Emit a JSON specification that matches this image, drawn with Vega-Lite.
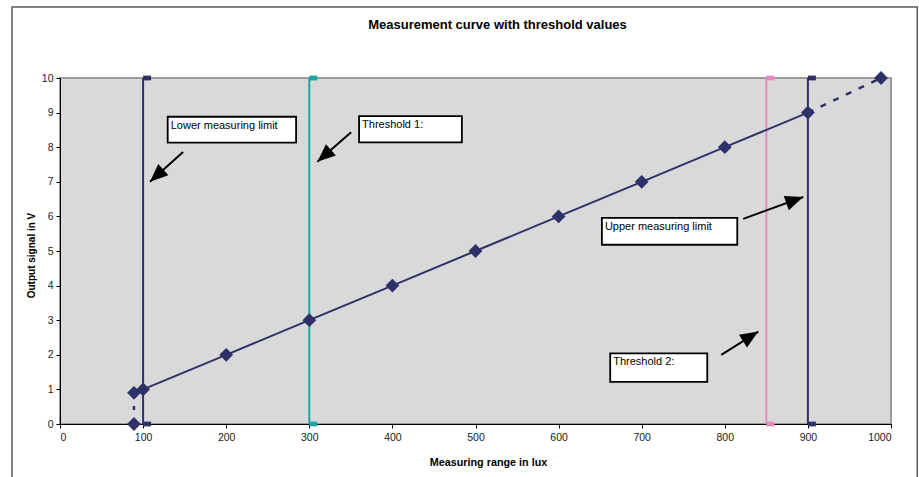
{
  "$schema": "https://vega.github.io/schema/vega-lite/v6.json",
  "width": 831,
  "height": 346,
  "autosize": {"type": "none"},
  "padding": {"left": 60, "top": 78, "right": 28, "bottom": 53},
  "background": "white",
  "title": {
    "text": "Measurement curve with threshold values",
    "anchor": "middle",
    "frame": "group",
    "dx": 22,
    "offset": -36,
    "baseline": "alphabetic",
    "font": "Liberation Sans",
    "fontSize": 13,
    "fontWeight": "bold",
    "color": "#000000"
  },
  "config": {
    "font": "Liberation Sans",
    "view": {"fill": "#d9d9d9", "stroke": "#9c9c9c", "strokeWidth": 2}
  },
  "datasets": {
    "readings": [
      {"x": 89, "y": 0},
      {"x": 89, "y": 0.9},
      {"x": 100, "y": 1},
      {"x": 200, "y": 2},
      {"x": 300, "y": 3},
      {"x": 400, "y": 4},
      {"x": 500, "y": 5},
      {"x": 600, "y": 6},
      {"x": 700, "y": 7},
      {"x": 800, "y": 8},
      {"x": 900, "y": 9},
      {"x": 988, "y": 10}
    ],
    "limits": [
      {"name": "Lower measuring limit", "x": 100, "y": 0},
      {"name": "Lower measuring limit", "x": 100, "y": 10},
      {"name": "Threshold 1", "x": 300, "y": 0},
      {"name": "Threshold 1", "x": 300, "y": 10},
      {"name": "Threshold 2", "x": 850, "y": 0},
      {"name": "Threshold 2", "x": 850, "y": 10},
      {"name": "Upper measuring limit", "x": 900, "y": 0},
      {"name": "Upper measuring limit", "x": 900, "y": 10}
    ],
    "notes": [
      {"label": "Lower measuring limit", "x": 129.6, "y": 8.88, "x2": 284.1, "y2": 8.13},
      {"label": "Threshold 1:", "x": 359.9, "y": 8.9, "x2": 483.6, "y2": 8.14},
      {"label": "Upper measuring limit", "x": 652.1, "y": 5.96, "x2": 815.0, "y2": 5.18},
      {"label": "Threshold 2:", "x": 662.1, "y": 2.04, "x2": 778.9, "y2": 1.22}
    ],
    "arrows": [
      {"name": "lower", "x": 108.3, "y": 7.0, "x2": 148.1, "y2": 7.86},
      {"name": "t1", "x": 309.7, "y": 7.58, "x2": 350.3, "y2": 8.43},
      {"name": "upper", "x": 894.4, "y": 6.56, "x2": 822.2, "y2": 5.93},
      {"name": "t2", "x": 840.3, "y": 2.67, "x2": 795.7, "y2": 2.0}
    ],
    "frame": [
      {"x": -57.8, "y": 12.05, "x2": 1031.6, "y2": -2}
    ]
  },
  "encoding": {
    "x": {
      "field": "x",
      "type": "quantitative",
      "scale": {"domain": [0, 1000], "nice": false, "zero": false},
      "axis": {
        "title": "Measuring range in lux",
        "values": [0, 100, 200, 300, 400, 500, 600, 700, 800, 900, 1000],
        "format": "d",
        "grid": false,
        "domainColor": "#000000",
        "tickColor": "#000000",
        "tickSize": 4,
        "labelPadding": 4,
        "labelFontSize": 10.5,
        "labelColor": "#1a1a1a",
        "titleFontSize": 10.8,
        "titleFontWeight": "bold",
        "titleColor": "#000000",
        "titleX": 428,
        "titleY": 41,
        "titleAlign": "center",
        "titleBaseline": "alphabetic"
      }
    },
    "y": {
      "field": "y",
      "type": "quantitative",
      "scale": {"domain": [0, 10], "nice": false, "zero": false},
      "axis": {
        "title": "Output signal in V",
        "values": [0, 1, 2, 3, 4, 5, 6, 7, 8, 9, 10],
        "grid": false,
        "domainColor": "#000000",
        "tickColor": "#000000",
        "tickSize": 4,
        "labelPadding": 3,
        "labelFontSize": 10.5,
        "labelColor": "#1a1a1a",
        "titleFontSize": 10,
        "titleFontWeight": "bold",
        "titleColor": "#000000",
        "titleAngle": -90,
        "titleX": -26,
        "titleY": 177,
        "titleAlign": "center",
        "titleBaseline": "alphabetic"
      }
    }
  },
  "layer": [
    {
      "data": {"name": "frame"},
      "mark": {"type": "rect", "fill": null, "fillOpacity": 0, "stroke": "#5a5a5a", "strokeWidth": 1.5, "clip": false},
      "encoding": {
        "x2": {"field": "x2"},
        "y2": {"field": "y2"}
      }
    },
    {
      "data": {"name": "limits"},
      "mark": {"type": "line", "strokeWidth": 2},
      "encoding": {
        "detail": {"field": "name"},
        "color": {
          "field": "name",
          "type": "nominal",
          "scale": {
            "domain": ["Lower measuring limit", "Threshold 1", "Threshold 2", "Upper measuring limit"],
            "range": ["#2e3167", "#1aa8a6", "#e28bc2", "#2e3167"]
          },
          "legend": null
        },
        "order": {"field": "y"}
      }
    },
    {
      "data": {"name": "limits"},
      "mark": {"type": "point", "shape": "M-1,-0.6H1V0.6H-1Z", "size": 64, "filled": true, "opacity": 1, "xOffset": 4},
      "encoding": {
        "color": {"field": "name", "type": "nominal", "legend": null}
      }
    },
    {
      "data": {"name": "readings"},
      "transform": [{"filter": "datum.y >= 0.9 && datum.x <= 900"}],
      "mark": {"type": "line", "color": "#2e3167", "strokeWidth": 2},
      "encoding": {"order": {"field": "x"}}
    },
    {
      "data": {"name": "readings"},
      "transform": [{"filter": "datum.x < 95"}],
      "mark": {"type": "line", "color": "#2e3167", "strokeWidth": 2.5, "strokeDash": [4, 10]},
      "encoding": {"order": {"field": "y"}}
    },
    {
      "data": {"name": "readings"},
      "transform": [{"filter": "datum.x >= 900"}],
      "mark": {"type": "line", "color": "#2e3167", "strokeWidth": 2.5, "strokeDash": [6, 8]},
      "encoding": {"order": {"field": "x"}}
    },
    {
      "data": {"name": "readings"},
      "mark": {"type": "point", "shape": "diamond", "size": 190, "filled": true, "color": "#2e3167", "opacity": 1},
      "encoding": {}
    },
    {
      "data": {"name": "notes"},
      "mark": {"type": "rect", "fill": "#ffffff", "stroke": "#000000", "strokeWidth": 1.8},
      "encoding": {
        "x2": {"field": "x2"},
        "y2": {"field": "y2"}
      }
    },
    {
      "data": {"name": "notes"},
      "mark": {"type": "text", "align": "left", "baseline": "top", "dx": 3, "dy": 3, "fontSize": 11, "color": "#000000", "font": "Liberation Sans"},
      "encoding": {"text": {"field": "label"}}
    },
    {
      "data": {"name": "arrows"},
      "mark": {"type": "rule", "color": "#000000", "strokeWidth": 2},
      "encoding": {
        "x2": {"field": "x2"},
        "y2": {"field": "y2"}
      }
    },
    {
      "data": {"name": "arrows"},
      "transform": [{"filter": "datum.name === 'lower'"}],
      "mark": {"type": "point", "shape": "M0,0L0.42,1L-0.42,1Z", "size": 1296, "filled": true, "color": "#000000", "opacity": 1, "angle": 227.7},
      "encoding": {}
    },
    {
      "data": {"name": "arrows"},
      "transform": [{"filter": "datum.name === 't1'"}],
      "mark": {"type": "point", "shape": "M0,0L0.42,1L-0.42,1Z", "size": 1296, "filled": true, "color": "#000000", "opacity": 1, "angle": 228.9},
      "encoding": {}
    },
    {
      "data": {"name": "arrows"},
      "transform": [{"filter": "datum.name === 'upper'"}],
      "mark": {"type": "point", "shape": "M0,0L0.42,1L-0.42,1Z", "size": 1296, "filled": true, "color": "#000000", "opacity": 1, "angle": 70.4},
      "encoding": {}
    },
    {
      "data": {"name": "arrows"},
      "transform": [{"filter": "datum.name === 't2'"}],
      "mark": {"type": "point", "shape": "M0,0L0.42,1L-0.42,1Z", "size": 1296, "filled": true, "color": "#000000", "opacity": 1, "angle": 58.1},
      "encoding": {}
    }
  ]
}
